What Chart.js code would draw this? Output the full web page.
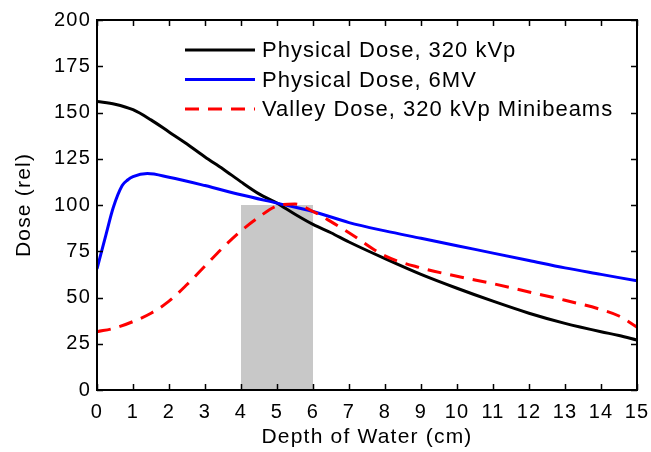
<!DOCTYPE html>
<html>
<head>
<meta charset="utf-8">
<script src="https://cdn.jsdelivr.net/npm/chart.js@4/dist/chart.umd.min.js"></script>
<style>
  html, body { margin: 0; padding: 0; background: #fff; }
  canvas { display: block; }
</style>
</head>
<body>
<canvas id="doseChart" width="651" height="452"></canvas>
<script>
// depth grid (cm) shared by the 320 kVp curves
const depth = [0, 0.5, 1, 1.5, 2, 2.5, 3, 3.5, 4, 4.5, 5, 5.5, 6, 6.5, 7, 8, 9, 10, 11, 12, 13, 14, 14.5, 15];
const physical320 = [156, 154.5, 151.5, 146, 139.5, 133, 126, 119.5, 112.5, 106, 101, 95, 89.5, 85, 80, 71, 62.5, 55, 48, 41.5, 36, 31.5, 29.5, 27];
const valley320 = [31.5, 33.5, 37, 41.5, 48, 57, 67, 77, 86, 93.5, 99.5, 100.5, 96.5, 91, 85, 72.5, 66, 61.5, 57.5, 53, 48.5, 43.5, 40, 34];

// 6MV has a build-up region, so it gets its own depths
const depth6MV = [0, 0.25, 0.45, 0.7, 0.85, 1, 1.4, 2, 3, 4, 5, 6, 7, 8, 9, 10, 11, 12, 13, 14, 15];
const physical6MV = [65.5, 84, 98.5, 110.5, 113.5, 115.3, 117, 115, 110.5, 105.5, 101, 96.5, 90.5, 86, 82, 78, 74, 70, 66, 62.5, 59];

// shaded target region
const shadeDepth = [4, 6];
const shadeDose = [100, 100];

const seriesLabels = ['Physical Dose, 320 kVp', 'Physical Dose, 6MV', 'Valley Dose, 320 kVp Minibeams'];
const xTicks = [0, 1, 2, 3, 4, 5, 6, 7, 8, 9, 10, 11, 12, 13, 14, 15];
const yTicks = [0, 25, 50, 75, 100, 125, 150, 175, 200];

const FONT = '"Liberation Sans", Arial, Helvetica, sans-serif';

function toPoints(xs, ys) {
  return xs.map((x, i) => ({ x: x, y: ys[i] }));
}

// the original text is a bit wide, spread letters a little
const spacingPlugin = {
  id: 'spacing',
  beforeDraw(chart) {
    chart.ctx.letterSpacing = '1.2px';
  }
};

// box frame + inward ticks on all four sides
const framePlugin = {
  id: 'frame',
  afterDatasetsDraw(chart) {
    const ctx = chart.ctx;
    const a = chart.chartArea;
    const xs = chart.scales.x;
    const ys = chart.scales.y;
    const len = 6;
    ctx.save();
    ctx.strokeStyle = '#000';
    ctx.lineWidth = 2;
    ctx.strokeRect(a.left, a.top, a.right - a.left, a.bottom - a.top);
    ctx.lineWidth = 1.5;
    ctx.beginPath();
    xTicks.forEach(v => {
      const px = Math.round(xs.getPixelForValue(v)) + 0.5;
      ctx.moveTo(px, a.bottom); ctx.lineTo(px, a.bottom - len);
      ctx.moveTo(px, a.top); ctx.lineTo(px, a.top + len);
    });
    yTicks.forEach(v => {
      const py = Math.round(ys.getPixelForValue(v)) + 0.5;
      ctx.moveTo(a.left, py); ctx.lineTo(a.left + len, py);
      ctx.moveTo(a.right, py); ctx.lineTo(a.right - len, py);
    });
    ctx.stroke();
    ctx.restore();
  }
};

// legend drawn inside the plot, matlab style
const legendPlugin = {
  id: 'insideLegend',
  afterDraw(chart) {
    const ctx = chart.ctx;
    const a = chart.chartArea;
    const x0 = a.left + 88;
    const y0 = a.top + 30;
    ctx.save();
    ctx.font = '22px ' + FONT;
    ctx.letterSpacing = '1px';
    ctx.textBaseline = 'middle';
    let row = 0;
    chart.data.datasets.forEach(ds => {
      if (!ds.inLegend) return;
      const y = y0 + row * 29.5;
      ctx.strokeStyle = ds.borderColor;
      ctx.lineWidth = ds.borderWidth;
      ctx.setLineDash(ds.borderDash || []);
      ctx.beginPath();
      ctx.moveTo(x0, y);
      ctx.lineTo(x0 + 70, y);
      ctx.stroke();
      ctx.setLineDash([]);
      ctx.fillStyle = '#000';
      ctx.fillText(ds.label, x0 + 77, y + 1);
      row++;
    });
    ctx.restore();
  }
};

new Chart(document.getElementById('doseChart').getContext('2d'), {
  type: 'line',
  data: {
    datasets: [
      {
        label: seriesLabels[0],
        data: toPoints(depth, physical320),
        borderColor: '#000000',
        borderWidth: 3,
        inLegend: true,
        order: 3
      },
      {
        label: seriesLabels[1],
        data: toPoints(depth6MV, physical6MV),
        borderColor: '#0000ff',
        borderWidth: 3,
        inLegend: true,
        order: 2
      },
      {
        label: seriesLabels[2],
        data: toPoints(depth, valley320),
        borderColor: '#ff0000',
        borderWidth: 3,
        borderDash: [14, 9],
        inLegend: true,
        order: 1
      },
      {
        label: 'target',
        data: toPoints(shadeDepth, shadeDose),
        borderColor: 'rgba(0,0,0,0)',
        borderWidth: 0,
        backgroundColor: '#c8c8c8',
        fill: 'origin',
        tension: 0,
        order: 10
      }
    ]
  },
  options: {
    responsive: false,
    animation: false,
    devicePixelRatio: 1,
    layout: { padding: { left: 0, top: 20, right: 14, bottom: 0 } },
    elements: {
      point: { radius: 0 },
      line: { cubicInterpolationMode: 'monotone' }
    },
    plugins: {
      legend: { display: false },
      tooltip: { enabled: false }
    },
    scales: {
      x: {
        type: 'linear',
        min: 0,
        max: 15,
        afterFit(scale) {
          scale.height = 62;
          scale.paddingLeft = 0;
          scale.paddingRight = 0;
        },
        afterBuildTicks(scale) { scale.ticks = xTicks.map(v => ({ value: v })); },
        grid: { display: false, drawTicks: false },
        border: { display: false },
        ticks: { padding: 10, color: '#000', font: { family: FONT, size: 20 } },
        title: {
          display: true,
          text: 'Depth of Water (cm)',
          color: '#000',
          font: { family: FONT, size: 21 },
          padding: { top: 0, bottom: 2 }
        }
      },
      y: {
        min: 0,
        max: 200,
        afterFit(scale) {
          scale.width = 97;
          scale.paddingTop = 0;
          scale.paddingBottom = 0;
        },
        afterBuildTicks(scale) { scale.ticks = yTicks.map(v => ({ value: v })); },
        grid: { display: false, drawTicks: false },
        border: { display: false },
        ticks: { padding: 6, color: '#000', font: { family: FONT, size: 20 } },
        title: {
          display: true,
          text: 'Dose (rel)',
          color: '#000',
          font: { family: FONT, size: 21 },
          padding: { top: 12, bottom: 0 }
        }
      }
    }
  },
  plugins: [spacingPlugin, framePlugin, legendPlugin]
});
</script>
</body>
</html>
